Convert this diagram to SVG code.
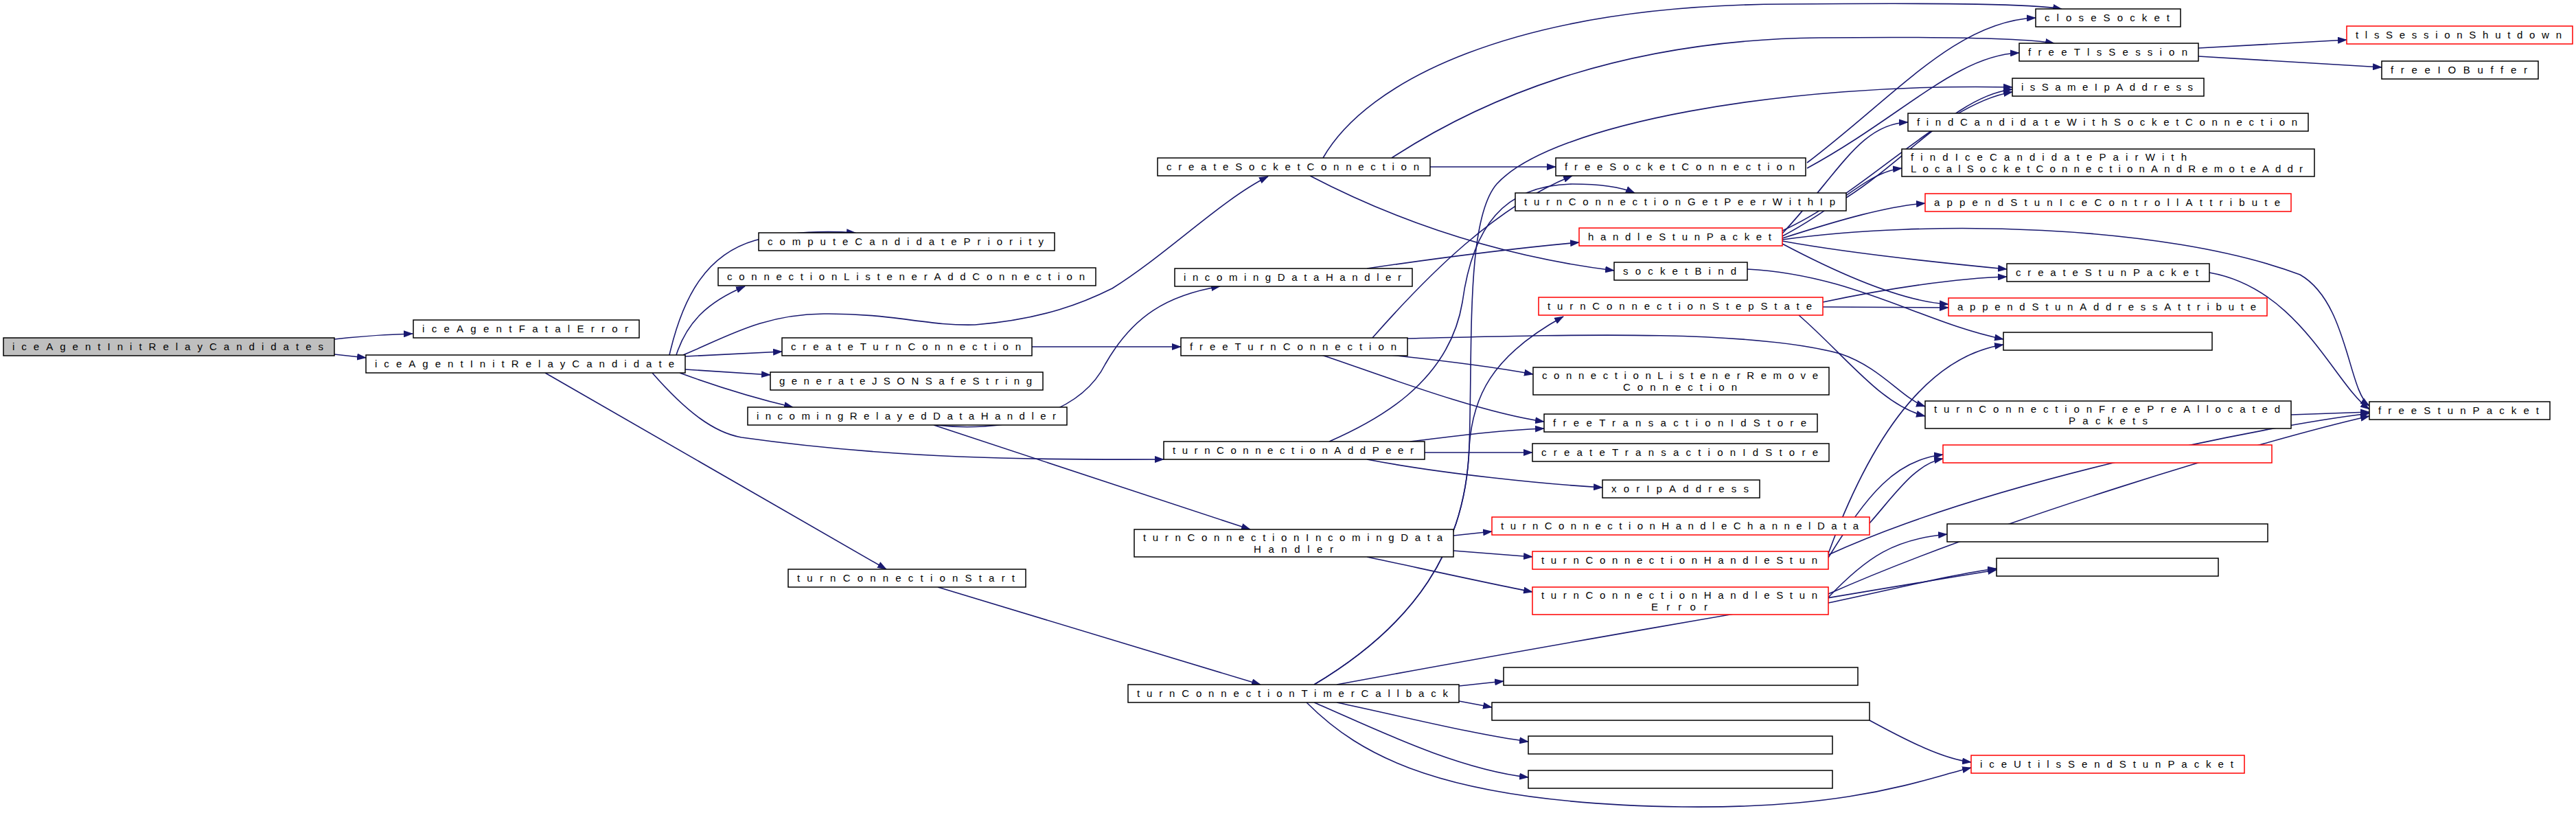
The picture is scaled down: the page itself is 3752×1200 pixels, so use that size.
<svg xmlns="http://www.w3.org/2000/svg" width="3752" height="1200" viewBox="0 0 3752 1200">
<defs>
<style>
.n rect{fill:#fff;stroke:#000;stroke-width:1.5}
.n.r rect{stroke:#f00}
.n.root rect{fill:#bfbfbf}
.n text{font-family:"Liberation Sans",Arial,sans-serif;font-size:15px;fill:#000}
.e path{fill:none;stroke:#191970;stroke-width:1.6;marker-end:url(#a)}
</style>
<marker id="a" markerWidth="14" markerHeight="10" refX="13" refY="5" orient="auto" markerUnits="userSpaceOnUse"><path d="M0,0 L14,5 L0,10 z" fill="#191970"/></marker>
</defs>
<rect width="3752" height="1200" fill="#fff"/>
<g id="edges" class="e">
<path d="M487,494 C530,489 560,487 601,486"/>
<path d="M487,516 C505,518 515,519 533,521"/>
<path d="M975,517 C995,430 1030,370 1100,350 C1150,337 1200,336 1246,339"/>
<path d="M985,517 C1000,470 1030,440 1085,417"/>
<path d="M995,517 C1060,490 1110,458 1200,457 C1300,456 1350,475 1420,473 C1520,465 1580,440 1620,420 C1700,370 1780,290 1847,257"/>
<path d="M998,519 L1139,512"/>
<path d="M998,538 L1122,546"/>
<path d="M990,543 C1050,565 1100,580 1155,593"/>
<path d="M950,543 C1000,600 1040,630 1080,637 C1300,668 1500,670 1695,669"/>
<path d="M794,543 L1291,829"/>
<path d="M1503,505 L1720,505"/>
<path d="M1364,619 C1450,630 1570,610 1610,530 C1650,460 1700,430 1777,417"/>
<path d="M1360,619 L1821,771"/>
<path d="M1366,855 L1836,997"/>
<path d="M2083,243 L2266,243"/>
<path d="M1908,256 C2050,330 2200,375 2351,394"/>
<path d="M1927,230 C1990,120 2200,8 2600,6 C2850,4 2960,6 3003,13"/>
<path d="M2027,230 C2150,150 2350,58 2650,55 C2850,53 2950,56 2992,63"/>
<path d="M2632,237 C2760,140 2850,30 2965,26"/>
<path d="M2632,245 C2770,170 2850,80 2941,77"/>
<path d="M3202,70 L3418,58"/>
<path d="M3202,82 L3469,98"/>
<path d="M1991,391 C2100,375 2200,362 2300,353"/>
<path d="M1999,492 C2080,400 2180,300 2290,256"/>
<path d="M2049,493 C2300,487 2550,480 2680,515 C2740,535 2770,580 2804,592"/>
<path d="M2025,517 C2100,525 2180,535 2233,545"/>
<path d="M1925,517 C1995,540 2150,600 2249,614"/>
<path d="M1936,643 C2000,615 2110,560 2130,440 C2145,330 2190,270 2290,268 C2330,268 2360,272 2381,281"/>
<path d="M2054,643 C2120,635 2180,627 2249,624"/>
<path d="M2075,659 L2232,659"/>
<path d="M1991,669 C2100,690 2250,705 2334,710"/>
<path d="M2117,780 L2173,774"/>
<path d="M2117,802 L2232,811"/>
<path d="M1991,811 C2080,830 2170,850 2232,862"/>
<path d="M2125,999 L2190,992"/>
<path d="M2125,1021 L2173,1030"/>
<path d="M1947,997 C2200,950 2600,880 2908,830"/>
<path d="M1947,1023 C2050,1045 2150,1070 2226,1080"/>
<path d="M1914,1023 C2000,1060 2120,1120 2226,1132"/>
<path d="M1903,1023 C1980,1100 2100,1170 2450,1175 C2700,1178 2800,1135 2871,1118"/>
<path d="M1914,997 C2060,910 2135,800 2140,650 C2145,500 2135,320 2180,268 C2260,180 2600,120 2931,127"/>
<path d="M1914,997 C2060,910 2135,800 2140,650 C2145,580 2170,520 2277,461"/>
<path d="M2689,288 C2780,230 2850,140 2931,130"/>
<path d="M2596,336 C2720,280 2830,150 2931,134"/>
<path d="M2596,340 C2680,250 2710,180 2779,178"/>
<path d="M2596,344 C2680,300 2720,250 2770,245"/>
<path d="M2596,347 C2680,320 2750,300 2804,296"/>
<path d="M2596,351 C2700,370 2850,385 2923,392"/>
<path d="M2596,355 C2700,410 2780,440 2838,443"/>
<path d="M2596,349 C2800,320 3150,325 3350,400 C3420,440 3420,570 3451,591"/>
<path d="M3218,397 C3350,420 3400,560 3451,596"/>
<path d="M2655,447 L2838,448"/>
<path d="M2655,440 C2750,420 2850,405 2923,403"/>
<path d="M2620,459 C2690,520 2740,590 2804,606"/>
<path d="M2545,392 C2700,400 2800,470 2918,494"/>
<path d="M2663,812 C2720,720 2760,670 2830,662"/>
<path d="M2663,808 C2900,700 3300,620 3451,602"/>
<path d="M2663,806 C2720,650 2800,520 2918,502"/>
<path d="M2663,870 C2720,810 2760,785 2836,778"/>
<path d="M2663,878 C2750,860 2850,835 2908,828"/>
<path d="M2663,865 C2900,760 3300,640 3451,606"/>
<path d="M2723,1049 C2780,1080 2830,1105 2871,1110"/>
<path d="M3337,604 L3451,600"/>
<path d="M2723,762 C2760,720 2790,675 2830,668"/>
</g>
<g id="n0" class="n root"><rect x="5" y="492" width="482" height="26"/><text x="18" y="510" textLength="453">iceAgentInitRelayCandidates</text></g>
<g id="n1" class="n"><rect x="602" y="466" width="329" height="26"/><text x="615" y="484" textLength="300">iceAgentFatalError</text></g>
<g id="n2" class="n"><rect x="533" y="517" width="465" height="26"/><text x="546" y="535" textLength="436">iceAgentInitRelayCandidate</text></g>
<g id="n3" class="n"><rect x="1105" y="339" width="431" height="26"/><text x="1118" y="357" textLength="402">computeCandidatePriority</text></g>
<g id="n4" class="n"><rect x="1046" y="390" width="550" height="26"/><text x="1059" y="408" textLength="521">connectionListenerAddConnection</text></g>
<g id="n5" class="n"><rect x="1139" y="492" width="364" height="26"/><text x="1152" y="510" textLength="335">createTurnConnection</text></g>
<g id="n6" class="n"><rect x="1122" y="542" width="397" height="26"/><text x="1135" y="560" textLength="368">generateJSONSafeString</text></g>
<g id="n7" class="n"><rect x="1089" y="593" width="465" height="26"/><text x="1102" y="611" textLength="436">incomingRelayedDataHandler</text></g>
<g id="n8" class="n"><rect x="1148" y="829" width="346" height="26"/><text x="1161" y="847" textLength="317">turnConnectionStart</text></g>
<g id="n9" class="n"><rect x="1686" y="230" width="397" height="26"/><text x="1699" y="248" textLength="368">createSocketConnection</text></g>
<g id="n10" class="n"><rect x="1711" y="391" width="346" height="26"/><text x="1724" y="409" textLength="317">incomingDataHandler</text></g>
<g id="n11" class="n"><rect x="1720" y="492" width="330" height="26"/><text x="1733" y="510" textLength="301">freeTurnConnection</text></g>
<g id="n12" class="n"><rect x="1695" y="643" width="380" height="26"/><text x="1708" y="661" textLength="351">turnConnectionAddPeer</text></g>
<g id="n13" class="n"><rect x="1652" y="771" width="465" height="40"/><text x="1665" y="788" textLength="436">turnConnectionIncomingData</text><text x="1826" y="805" textLength="116">Handler</text></g>
<g id="n14" class="n"><rect x="1643" y="997" width="482" height="26"/><text x="1656" y="1015" textLength="453">turnConnectionTimerCallback</text></g>
<g id="n15" class="n"><rect x="2207" y="281" width="482" height="26"/><text x="2220" y="299" textLength="453">turnConnectionGetPeerWithIp</text></g>
<g id="n16" class="n r"><rect x="2300" y="332" width="296" height="26"/><text x="2313" y="350" textLength="267">handleStunPacket</text></g>
<g id="n17" class="n"><rect x="2351" y="382" width="194" height="26"/><text x="2364" y="400" textLength="165">socketBind</text></g>
<g id="n18" class="n r"><rect x="2241" y="433" width="414" height="26"/><text x="2254" y="451" textLength="385">turnConnectionStepState</text></g>
<g id="n19" class="n"><rect x="2233" y="535" width="431" height="40"/><text x="2246" y="552" textLength="402">connectionListenerRemove</text><text x="2364" y="569" textLength="166">Connection</text></g>
<g id="n20" class="n r"><rect x="2232" y="803" width="431" height="26"/><text x="2245" y="821" textLength="402">turnConnectionHandleStun</text></g>
<g id="n21" class="n r"><rect x="2232" y="855" width="431" height="40"/><text x="2245" y="872" textLength="402">turnConnectionHandleStun</text><text x="2405" y="889" textLength="82">Error</text></g>
<g id="n22" class="n"><rect x="2965" y="13" width="211" height="26"/><text x="2978" y="31" textLength="182">closeSocket</text></g>
<g id="n23" class="n"><rect x="2941" y="63" width="261" height="26"/><text x="2954" y="81" textLength="232">freeTlsSession</text></g>
<g id="n24" class="n r"><rect x="3418" y="38" width="329" height="26"/><text x="3431" y="56" textLength="300">tlsSessionShutdown</text></g>
<g id="n25" class="n"><rect x="3469" y="89" width="228" height="26"/><text x="3482" y="107" textLength="199">freeIOBuffer</text></g>
<g id="n26" class="n"><rect x="2931" y="114" width="279" height="26"/><text x="2944" y="132" textLength="250">isSameIpAddress</text></g>
<g id="n27" class="n"><rect x="2779" y="165" width="583" height="26"/><text x="2792" y="183" textLength="554">findCandidateWithSocketConnection</text></g>
<g id="n28" class="n"><rect x="2770" y="217" width="601" height="40"/><text x="2783" y="234" textLength="402">findIceCandidatePairWith</text><text x="2783" y="251" textLength="571">LocalSocketConnectionAndRemoteAddr</text></g>
<g id="n29" class="n r"><rect x="2804" y="282" width="533" height="26"/><text x="2817" y="300" textLength="504">appendStunIceControllAttribute</text></g>
<g id="n30" class="n"><rect x="2923" y="384" width="295" height="26"/><text x="2936" y="402" textLength="266">createStunPacket</text></g>
<g id="n31" class="n r"><rect x="2838" y="434" width="464" height="26"/><text x="2851" y="452" textLength="435">appendStunAddressAttribute</text></g>
<g id="n32" class="n"><rect x="2266" y="230" width="364" height="26"/><text x="2279" y="248" textLength="335">freeSocketConnection</text></g>
<g id="n33" class="n"><rect x="2249" y="603" width="398" height="26"/><text x="2262" y="621" textLength="369">freeTransactionIdStore</text></g>
<g id="n34" class="n"><rect x="2232" y="646" width="432" height="26"/><text x="2245" y="664" textLength="403">createTransactionIdStore</text></g>
<g id="n35" class="n"><rect x="2334" y="699" width="229" height="26"/><text x="2347" y="717" textLength="200">xorIpAddress</text></g>
<g id="n36" class="n r"><rect x="2173" y="753" width="550" height="26"/><text x="2186" y="771" textLength="521">turnConnectionHandleChannelData</text></g>
<g id="n37" class="n"><rect x="2190" y="972" width="516" height="26"/></g>
<g id="n38" class="n"><rect x="2173" y="1023" width="550" height="26"/></g>
<g id="n39" class="n"><rect x="2226" y="1072" width="443" height="26"/></g>
<g id="n40" class="n"><rect x="2226" y="1122" width="443" height="26"/></g>
<g id="n41" class="n"><rect x="2918" y="484" width="304" height="26"/></g>
<g id="n42" class="n"><rect x="2804" y="584" width="533" height="40"/><text x="2817" y="601" textLength="504">turnConnectionFreePreAllocated</text><text x="3013" y="618" textLength="115">Packets</text></g>
<g id="n43" class="n r"><rect x="2830" y="648" width="479" height="26"/></g>
<g id="n44" class="n"><rect x="2836" y="763" width="467" height="26"/></g>
<g id="n45" class="n"><rect x="2908" y="813" width="323" height="26"/></g>
<g id="n46" class="n r"><rect x="2871" y="1100" width="398" height="26"/><text x="2884" y="1118" textLength="369">iceUtilsSendStunPacket</text></g>
<g id="n47" class="n"><rect x="3451" y="585" width="263" height="26"/><text x="3464" y="603" textLength="234">freeStunPacket</text></g>
</svg>
